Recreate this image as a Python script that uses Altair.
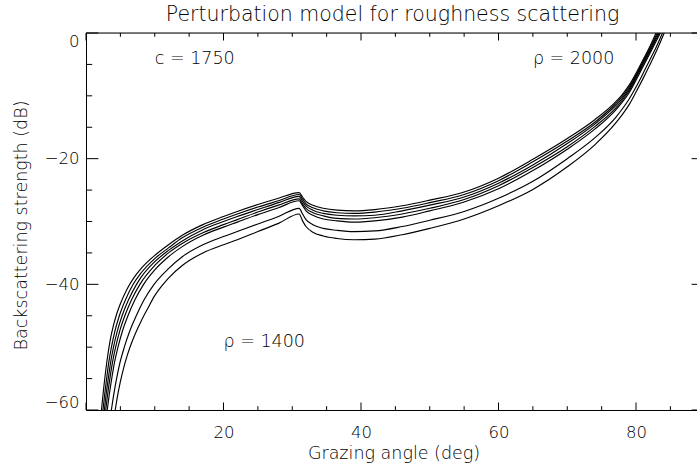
import altair as alt
import pandas as pd

FONT = "DejaVu Sans"
WEIGHT = 200

# Perturbation-model backscattering strength (dB) versus grazing angle (deg),
# sound speed c = 1750, one curve per density rho.
densities = [2000, 1900, 1800, 1700, 1600, 1500, 1400]

angle_2000 = [2.25, 2.5, 3.0, 3.5, 4.0, 4.5, 5.0, 6.0, 7.0, 8.0, 10, 12, 14, 17, 20, 22, 25, 28, 31,
              31.5, 32, 33, 34.5, 36.5, 39, 42, 46, 50, 55, 60, 65, 70, 74, 77, 78, 79, 80, 81, 82, 82.9]
level_2000 = [-60, -57.3, -52.6, -49.0, -46.5, -44.6, -43.1, -40.7, -38.9, -37.5, -35.4, -33.7, -32.2, -30.5,
              -29.2, -28.4, -27.3, -26.3, -25.4, -26.1, -26.8, -27.4, -27.9, -28.2, -28.3, -28.1, -27.5, -26.6,
              -25.3, -23.1, -20.1, -16.8, -13.8, -11.0, -9.8, -8.3, -6.4, -4.3, -2.2, 0]

angle_1900 = [2.47, 2.72, 3.00, 3.30, 3.70, 4.19, 4.85, 5.73, 6.86, 8, 10, 12, 14, 17, 20, 22, 25, 28, 31,
              31.5, 32, 33, 34.5, 36.5, 39, 42, 46, 50, 55, 60, 65, 70, 74, 77, 78, 79, 80, 81, 82, 83.1]
level_1900 = [-60, -57.5, -55, -52.5, -50, -47.5, -45, -42.5, -40, -38.2, -35.9, -34.2, -32.6, -30.9, -29.6,
              -28.8, -27.7, -26.7, -25.7, -26.4, -27.2, -27.8, -28.3, -28.6, -28.7, -28.5, -27.9, -27.0, -25.7,
              -23.5, -20.5, -17.2, -14.2, -11.3, -10.1, -8.6, -6.7, -4.6, -2.5, 0]

angle_1800 = [2.67, 2.93, 3.24, 3.57, 4.00, 4.54, 5.25, 6.17, 7.35, 8, 10, 12, 14, 17, 20, 22, 25, 28, 31,
              31.5, 32, 33, 34.5, 36.5, 39, 42, 46, 50, 55, 60, 65, 70, 74, 77, 78, 79, 80, 81, 82, 83.25]
level_1800 = [-60, -57.5, -55, -52.5, -50, -47.5, -45, -42.5, -40, -38.9, -36.4, -34.6, -33.1, -31.3, -30.0,
              -29.2, -28.1, -27.0, -26.0, -26.8, -27.5, -28.2, -28.7, -29.0, -29.1, -29.0, -28.3, -27.4, -26.1,
              -23.9, -21.0, -17.6, -14.5, -11.6, -10.4, -8.9, -6.9, -4.8, -2.7, 0]

angle_1700 = [2.87, 3.15, 3.47, 3.84, 4.31, 4.89, 5.65, 6.61, 7.84, 10, 12, 14, 17, 20, 22, 25, 28, 31,
              31.5, 32, 33, 34.5, 36.5, 39, 42, 46, 50, 55, 60, 65, 70, 74, 77, 78, 79, 80, 81, 82, 83.4]
level_1700 = [-60, -57.5, -55, -52.5, -50, -47.5, -45, -42.5, -40, -37.0, -35.0, -33.5, -31.8, -30.5, -29.7,
              -28.5, -27.4, -26.4, -27.2, -27.9, -28.6, -29.1, -29.5, -29.6, -29.4, -28.8, -27.9, -26.5,
              -24.3, -21.4, -18.1, -14.9, -12.0, -10.7, -9.2, -7.2, -5.1, -3.0, 0]

angle_1600 = [3.09, 3.39, 3.74, 4.13, 4.65, 5.28, 6.10, 7.10, 8.38, 10, 12, 14, 17, 20, 22, 25, 28, 31,
              31.5, 32, 33, 34.5, 36.5, 39, 42, 46, 50, 55, 60, 65, 70, 74, 77, 78, 79, 80, 81, 82, 83.55]
level_1600 = [-60, -57.5, -55, -52.5, -50, -47.5, -45, -42.5, -40, -37.7, -35.6, -34.0, -32.2, -30.9, -30.1,
              -28.9, -27.8, -26.7, -27.5, -28.3, -29.0, -29.6, -29.9, -30.1, -29.9, -29.3, -28.3, -26.9,
              -24.8, -21.9, -18.5, -15.3, -12.3, -11.0, -9.5, -7.5, -5.4, -3.3, 0]

angle_1500 = [3.69, 4.04, 4.45, 4.93, 5.57, 6.34, 7.31, 8.43, 9.9, 12, 14, 17, 20, 22, 25, 28, 31,
              31.5, 32, 33, 34.5, 36.5, 39, 42, 46, 50, 55, 60, 65, 70, 74, 77, 78, 79, 80, 81, 82, 83, 83.85]
level_1500 = [-60, -57.5, -55, -52.5, -50, -47.5, -45, -42.5, -40, -37.5, -35.6, -33.7, -32.4, -31.6, -30.4,
              -29.2, -27.9, -28.8, -29.7, -30.5, -31.1, -31.4, -31.6, -31.5, -30.8, -29.8, -28.4, -26.3,
              -23.6, -20.0, -16.7, -13.5, -12.1, -10.5, -8.6, -6.5, -4.3, -2.1, 0]

angle_1400 = [4.25, 4.5, 5, 5.5, 6, 7, 8, 9, 10, 11, 12, 14, 17, 20, 22, 25, 28, 31,
              31.5, 32, 33, 34.5, 36.5, 39, 42, 46, 50, 55, 60, 65, 70, 74, 77, 78, 79, 80, 81, 82, 83, 84.1]
level_1400 = [-60, -58.3, -55.5, -53.2, -51.3, -48.3, -45.9, -43.8, -41.8, -40.3, -39.0, -37.0, -35.0, -33.7,
              -32.9, -31.6, -30.3, -28.8, -29.9, -30.8, -31.7, -32.3, -32.7, -32.9, -32.8, -32.1, -31.1, -29.6,
              -27.5, -24.9, -21.3, -17.8, -14.4, -13.0, -11.4, -9.4, -7.3, -5.1, -2.8, 0]

angles = [angle_2000, angle_1900, angle_1800, angle_1700, angle_1600, angle_1500, angle_1400]
levels = [level_2000, level_1900, level_1800, level_1700, level_1600, level_1500, level_1400]

# Axis ticks (major / minor) and labels
x_major = [0, 20, 40, 60, 80]
x_minor = [5, 10, 15, 25, 30, 35, 45, 50, 55, 65, 70, 75, 85]
x_labels = [20, 40, 60, 80]
y_major = [0, -20, -40, -60]
y_minor = [-5, -10, -15, -25, -30, -35, -45, -50, -55]

# Title and annotations
title_text = "Perturbation model for roughness scattering"
note_text = ["c = 1750", "\u03c1 = 2000", "\u03c1 = 1400"]
note_angle = [10, 65, 20]
note_level = [-5, -5, -50]

rows = []
for rho, ang, lev in zip(densities, angles, levels):
    for a, v in zip(ang, lev):
        rows.append({"rho": rho, "angle": a, "level": v})
curves = pd.DataFrame(rows)

W, H = 611, 377
xs = alt.Scale(domain=[0, 88.87], nice=False, zero=False)
ys = alt.Scale(domain=[-60, 0], nice=False, zero=False)

x_axis = alt.Axis(
    values=x_labels, title="Grazing angle (deg)", grid=False, ticks=False, tickSize=0,
    domainColor="black", domainWidth=1, labelColor="black", labelFont=FONT, labelFontSize=16.5,
    labelFontWeight=WEIGHT, labelPadding=14, titleFont=FONT, titleFontSize=17.5, titleFontWeight=WEIGHT,
    titleColor="black", titleX=307.5, titleY=48, titleBaseline="alphabetic", titleAlign="center",
)
y_axis = alt.Axis(
    values=y_major, title="Backscattering strength (dB)", grid=False, ticks=False, tickSize=0,
    domainColor="black", domainWidth=1, labelColor="black", labelFont=FONT, labelFontSize=16.5,
    labelFontWeight=WEIGHT, labelPadding=7, labelFlush=True, titleFont=FONT, titleFontSize=17.5,
    titleFontWeight=WEIGHT, titleColor="black", titleX=-60, titleY=192, titleAngle=270,
    titleBaseline="alphabetic", titleAlign="center",
)

X = alt.X("angle:Q", scale=xs, axis=x_axis)
Y = alt.Y("level:Q", scale=ys, axis=y_axis)

lines = alt.Chart(curves).mark_line(
    color="black", strokeWidth=1.15, interpolate="monotone", clip=True
).encode(x=X, y=Y, detail="rho:N")


def xticks(values, y0, y1):
    return alt.Chart(pd.DataFrame({"angle": values})).mark_rule(color="black", strokeWidth=1).encode(
        x=X, y=alt.value(y0), y2=alt.value(y1)
    )


def yticks(values, x0, x1):
    return alt.Chart(pd.DataFrame({"level": values})).mark_rule(color="black", strokeWidth=1).encode(
        y=Y, x=alt.value(x0), x2=alt.value(x1)
    )


# frame line along the top of the plot
top_line = alt.Chart(pd.DataFrame({"level": [0]})).mark_rule(color="black", strokeWidth=1).encode(y=Y)

notes = alt.Chart(
    pd.DataFrame({"angle": note_angle, "level": note_level, "label": note_text})
).mark_text(
    align="left", baseline="alphabetic", font=FONT, fontSize=17.5, fontWeight=WEIGHT, color="black"
).encode(x=X, y=Y, text="label:N")

heading = alt.Chart(pd.DataFrame({"label": [title_text]})).mark_text(
    align="center", baseline="alphabetic", font=FONT, fontSize=20.5, fontWeight=WEIGHT, color="black"
).encode(x=alt.value(306.5), y=alt.value(-12.3), text="label:N")

chart = alt.layer(
    lines,
    top_line,
    xticks(x_major, H, H - 7.5),
    xticks(x_minor, H, H - 3.8),
    xticks(x_major, 0, 7.5),
    xticks(x_minor, 0, 3.8),
    yticks(y_major, 0, 12.4),
    yticks(y_minor, 0, 6.2),
    yticks(y_major, W - 5.4, W),
    notes,
    heading,
).properties(
    width=W,
    height=H,
    padding={"left": 86, "top": 33, "right": 0, "bottom": 57},
    autosize=alt.AutoSizeParams(type="none"),
).configure_view(stroke=None).configure(background="white")

chart.save("out.html", embed_options={"renderer": "svg", "actions": False})
